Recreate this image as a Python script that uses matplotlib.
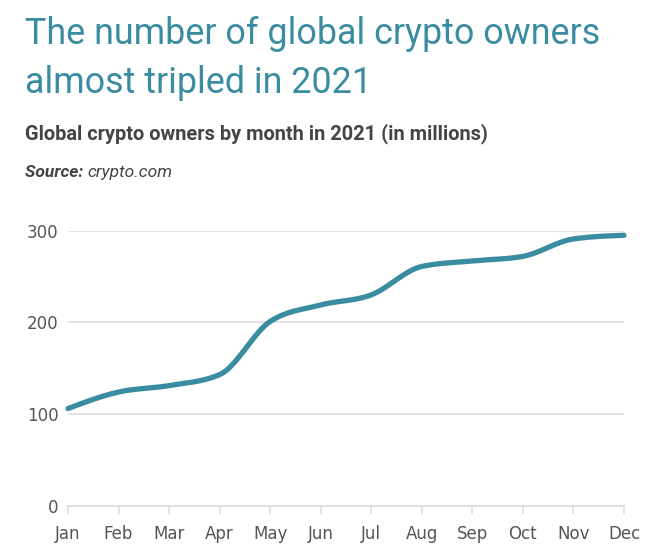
import numpy as np
import matplotlib
matplotlib.use("Agg")
import matplotlib.pyplot as plt

months = ['Jan', 'Feb', 'Mar', 'Apr', 'May', 'Jun',
          'Jul', 'Aug', 'Sep', 'Oct', 'Nov', 'Dec']
owners = [106, 124, 131, 143, 201, 219, 230, 261, 267, 272, 291, 295]
yticks = [0, 100, 200, 300]

title_lines = ['The number of global crypto owners', 'almost tripled in 2021']
subtitle = 'Global crypto owners by month in 2021 (in millions)'

teal = '#3a8ca1'
grid_col = '#dedede'
text_col = '#555555'


def monotone_curve(x, y, n=40):
    # monotone cubic like d3.curveMonotoneX, only used to draw a smooth line
    x = np.asarray(x, float)
    y = np.asarray(y, float)
    h = np.diff(x)
    d = np.diff(y) / h
    m = np.zeros_like(y)
    for i in range(1, len(y) - 1):
        p = (d[i - 1] * h[i] + d[i] * h[i - 1]) / (h[i - 1] + h[i])
        m[i] = (np.sign(d[i - 1]) + np.sign(d[i])) * min(abs(d[i - 1]), abs(d[i]), 0.5 * abs(p))
    m[0] = (3 * d[0] - m[1]) / 2
    m[-1] = (3 * d[-1] - m[-2]) / 2
    xs, ys = [], []
    for i in range(len(x) - 1):
        t = np.linspace(0, 1, n, endpoint=(i == len(x) - 2))
        h00 = 2 * t**3 - 3 * t**2 + 1
        h10 = t**3 - 2 * t**2 + t
        h01 = -2 * t**3 + 3 * t**2
        h11 = t**3 - t**2
        xs.append(x[i] + t * h[i])
        ys.append(h00 * y[i] + h10 * h[i] * m[i] + h01 * y[i + 1] + h11 * h[i] * m[i + 1])
    return np.concatenate(xs), np.concatenate(ys)


fig = plt.figure(figsize=(6.66, 5.6), dpi=100)
ax = fig.add_axes([68 / 666, 1 - 505.7 / 560, (624 - 68) / 666, (505.7 - 230.7) / 560])

xpos = np.arange(len(months))
cx, cy = monotone_curve(xpos, owners)
ax.plot(cx, cy, color=teal, linewidth=3.8, solid_capstyle='round', clip_on=False, zorder=3)

ax.set_xlim(0, len(months) - 1)
ax.set_ylim(0, 300)
ax.set_yticks(yticks)
ax.set_xticks(xpos)
ax.set_xticklabels(months)

for v in yticks[1:]:
    ax.axhline(v, color=grid_col, linewidth=1.2, zorder=1)

for s in ['top', 'right', 'left']:
    ax.spines[s].set_visible(False)
ax.spines['bottom'].set_color(grid_col)
ax.spines['bottom'].set_linewidth(1.5)
ax.spines['bottom'].set_clip_on(False)

ax.tick_params(axis='x', length=6, width=1.2, color=grid_col, direction='out',
               labelsize=12, labelcolor=text_col, pad=8)
ax.tick_params(axis='y', length=0, labelsize=12, labelcolor=text_col, pad=7)

# title, one line at a time so the baselines land where the reference has them
for line, base in zip(title_lines, [44, 92.7]):
    fig.text(25 / 666, 1 - base / 560, line, color=teal, fontsize=25.8,
             family='Roboto', va='baseline', ha='left')
fig.text(25 / 666, 1 - 139.5 / 560, subtitle, color='#444444', fontsize=14.4,
         fontweight='bold', family='Roboto', va='baseline', ha='left')
src = fig.text(25 / 666, 1 - 177 / 560, 'Source: ', color='#444444', fontsize=12.5,
               fontweight='bold', fontstyle='italic', family='Roboto', va='baseline', ha='left')
r = fig.canvas.get_renderer()
bb = src.get_window_extent(renderer=r)
fig.text(bb.x1 / fig.bbox.width, 1 - 177 / 560, 'crypto.com', color='#444444', fontsize=12.5,
         fontstyle='italic', family='Roboto', va='baseline', ha='left')

fig.savefig('out.png', dpi=100, facecolor='white')
